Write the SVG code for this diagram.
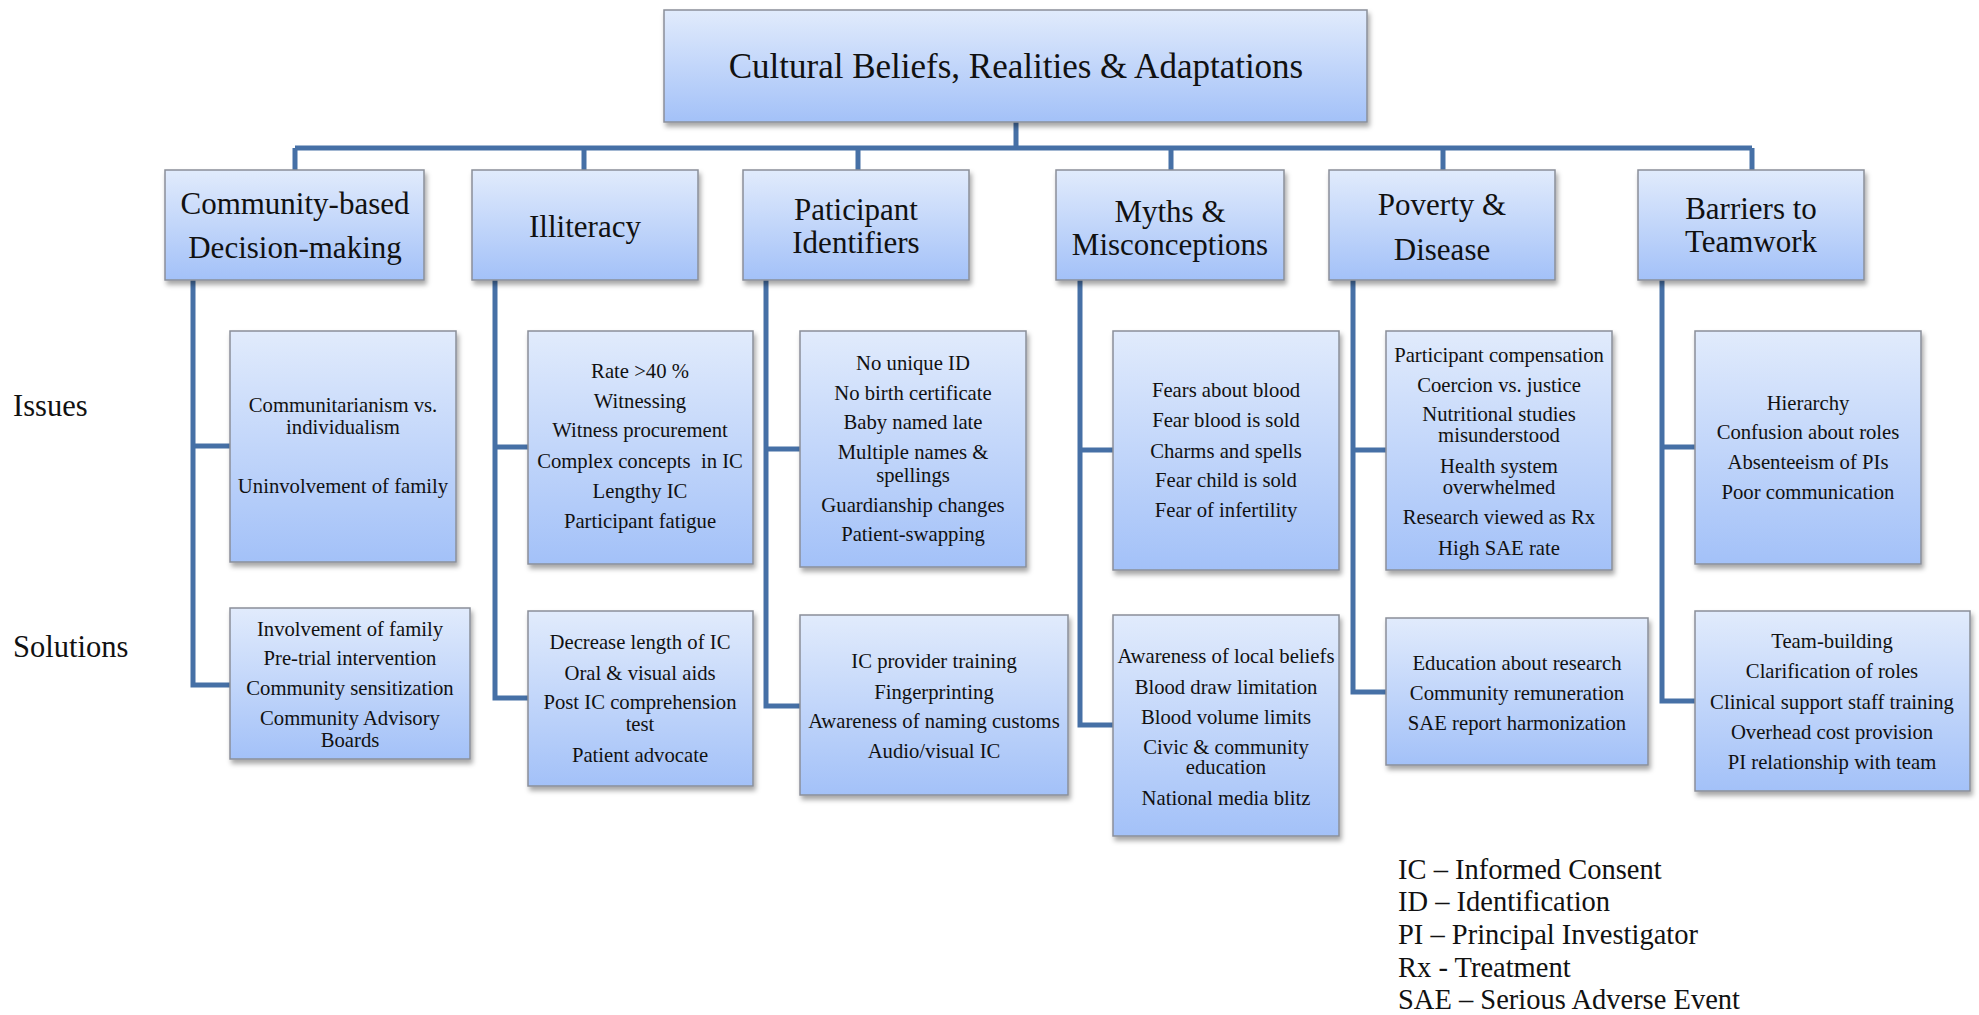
<svg xmlns="http://www.w3.org/2000/svg" width="1979" height="1015" viewBox="0 0 1979 1015">
<defs>
<linearGradient id="g" x1="0" y1="0" x2="0" y2="1">
<stop offset="0" stop-color="#e1ebfc"/>
<stop offset="1" stop-color="#a3c1f8"/>
</linearGradient>
<filter id="sh" x="-5%" y="-5%" width="115%" height="120%">
<feDropShadow dx="2" dy="4" stdDeviation="2.5" flood-color="#000" flood-opacity="0.35"/>
</filter>
</defs>
<style>
.box{fill:url(#g);stroke:#8a8f99;stroke-width:1.5;filter:url(#sh)}
.conn{fill:none;stroke:#4670a6;stroke-width:5;stroke-linejoin:miter}
text{font-family:"Liberation Serif","Times New Roman",serif;fill:#111}
.t{font-size:35px;text-anchor:middle}
.c{font-size:31px;text-anchor:middle}
.b{font-size:20.7px;text-anchor:middle}
.l{font-size:30.5px}
.lg{font-size:28.5px}
.pre{white-space:pre}
</style>
<rect width="1979" height="1015" fill="#fff"/>
<g id="connectors">
<path class="conn" d="M1016,122 V148 M295,148 H1752 M295,148 V170 M584,148 V170 M858,148 V170 M1171,148 V170 M1443,148 V170 M1752,148 V170"/>
<path class="conn" d="M193,280 V685 H230 M193,446 H230"/>
<path class="conn" d="M495,280 V698 H528 M495,447 H528"/>
<path class="conn" d="M766,280 V706 H800 M766,449 H800"/>
<path class="conn" d="M1080,280 V725 H1113 M1080,450 H1113"/>
<path class="conn" d="M1353,280 V692 H1386 M1353,450 H1386"/>
<path class="conn" d="M1662,280 V701 H1695 M1662,447 H1695"/>
</g>
<g id="root">
<rect class="box" x="664" y="10" width="703" height="112"/>
<text class="t" x="1016" y="78">Cultural Beliefs, Realities &amp; Adaptations</text>
</g>
<g id="cat1">
<rect class="box" x="165" y="170" width="259" height="110"/>
<text class="c" x="295" y="214">Community-based</text>
<text class="c" x="295" y="258">Decision-making</text>
</g>
<g id="cat2">
<rect class="box" x="472" y="170" width="226" height="110"/>
<text class="c" x="585" y="237">Illiteracy</text>
</g>
<g id="cat3">
<rect class="box" x="743" y="170" width="226" height="110"/>
<text class="c" x="856" y="220">Paticipant</text>
<text class="c" x="856" y="253">Identifiers</text>
</g>
<g id="cat4">
<rect class="box" x="1056" y="170" width="228" height="110"/>
<text class="c" x="1170" y="222">Myths &amp;</text>
<text class="c" x="1170" y="255">Misconceptions</text>
</g>
<g id="cat5">
<rect class="box" x="1329" y="170" width="226" height="110"/>
<text class="c" x="1442" y="215">Poverty &amp;</text>
<text class="c" x="1442" y="260">Disease</text>
</g>
<g id="cat6">
<rect class="box" x="1638" y="170" width="226" height="110"/>
<text class="c" x="1751" y="219">Barriers to</text>
<text class="c" x="1751" y="252">Teamwork</text>
</g>
<g id="labels">
<text class="l" x="13" y="416">Issues</text>
<text class="l" x="13" y="657">Solutions</text>
</g>
<g id="issue1">
<rect class="box" x="230" y="331" width="226" height="231"/>
<text class="b" x="343" y="412">Communitarianism vs.</text>
<text class="b" x="343" y="434">individualism</text>
<text class="b" x="343" y="493">Uninvolvement of family</text>
</g>
<g id="issue2">
<rect class="box" x="528" y="331" width="225" height="233"/>
<text class="b" x="640" y="378">Rate &gt;40 %</text>
<text class="b" x="640" y="408">Witnessing</text>
<text class="b" x="640" y="437">Witness procurement</text>
<text class="b pre" x="640" y="468">Complex concepts  in IC</text>
<text class="b" x="640" y="498">Lengthy IC</text>
<text class="b" x="640" y="528">Participant fatigue</text>
</g>
<g id="issue3">
<rect class="box" x="800" y="331" width="226" height="236"/>
<text class="b" x="913" y="370">No unique ID</text>
<text class="b" x="913" y="400">No birth certificate</text>
<text class="b" x="913" y="429">Baby named late</text>
<text class="b" x="913" y="459">Multiple names &amp;</text>
<text class="b" x="913" y="482">spellings</text>
<text class="b" x="913" y="512">Guardianship changes</text>
<text class="b" x="913" y="541">Patient-swapping</text>
</g>
<g id="issue4">
<rect class="box" x="1113" y="331" width="226" height="239"/>
<text class="b" x="1226" y="397">Fears about blood</text>
<text class="b" x="1226" y="427">Fear blood is sold</text>
<text class="b" x="1226" y="458">Charms and spells</text>
<text class="b" x="1226" y="487">Fear child is sold</text>
<text class="b" x="1226" y="517">Fear of infertility</text>
</g>
<g id="issue5">
<rect class="box" x="1386" y="331" width="226" height="239"/>
<text class="b" x="1499" y="362">Participant compensation</text>
<text class="b" x="1499" y="392">Coercion vs. justice</text>
<text class="b" x="1499" y="421">Nutritional studies</text>
<text class="b" x="1499" y="442">misunderstood</text>
<text class="b" x="1499" y="473">Health system</text>
<text class="b" x="1499" y="494">overwhelmed</text>
<text class="b" x="1499" y="524">Research viewed as Rx</text>
<text class="b" x="1499" y="555">High SAE rate</text>
</g>
<g id="issue6">
<rect class="box" x="1695" y="331" width="226" height="233"/>
<text class="b" x="1808" y="410">Hierarchy</text>
<text class="b" x="1808" y="439">Confusion about roles</text>
<text class="b" x="1808" y="469">Absenteeism of PIs</text>
<text class="b" x="1808" y="499">Poor communication</text>
</g>
<g id="sol1">
<rect class="box" x="230" y="608" width="240" height="151"/>
<text class="b" x="350" y="636">Involvement of family</text>
<text class="b" x="350" y="665">Pre-trial intervention</text>
<text class="b" x="350" y="695">Community sensitization</text>
<text class="b" x="350" y="725">Community Advisory</text>
<text class="b" x="350" y="747">Boards</text>
</g>
<g id="sol2">
<rect class="box" x="528" y="611" width="225" height="175"/>
<text class="b" x="640" y="649">Decrease length of IC</text>
<text class="b" x="640" y="680">Oral &amp; visual aids</text>
<text class="b" x="640" y="709">Post IC comprehension</text>
<text class="b" x="640" y="731">test</text>
<text class="b" x="640" y="762">Patient advocate</text>
</g>
<g id="sol3">
<rect class="box" x="800" y="615" width="268" height="180"/>
<text class="b" x="934" y="668">IC provider training</text>
<text class="b" x="934" y="699">Fingerprinting</text>
<text class="b" x="934" y="728">Awareness of naming customs</text>
<text class="b" x="934" y="758">Audio/visual IC</text>
</g>
<g id="sol4">
<rect class="box" x="1113" y="615" width="226" height="221"/>
<text class="b" x="1226" y="663">Awareness of local beliefs</text>
<text class="b" x="1226" y="694">Blood draw limitation</text>
<text class="b" x="1226" y="724">Blood volume limits</text>
<text class="b" x="1226" y="754">Civic &amp; community</text>
<text class="b" x="1226" y="774">education</text>
<text class="b" x="1226" y="805">National media blitz</text>
</g>
<g id="sol5">
<rect class="box" x="1386" y="618" width="262" height="147"/>
<text class="b" x="1517" y="670">Education about research</text>
<text class="b" x="1517" y="700">Community remuneration</text>
<text class="b" x="1517" y="730">SAE report harmonization</text>
</g>
<g id="sol6">
<rect class="box" x="1695" y="611" width="275" height="180"/>
<text class="b" x="1832" y="648">Team-building</text>
<text class="b" x="1832" y="678">Clarification of roles</text>
<text class="b" x="1832" y="709">Clinical support staff training</text>
<text class="b" x="1832" y="739">Overhead cost provision</text>
<text class="b" x="1832" y="769">PI relationship with team</text>
</g>
<g id="legend">
<text class="lg" x="1398" y="879">IC – Informed Consent</text>
<text class="lg" x="1398" y="911">ID – Identification</text>
<text class="lg" x="1398" y="944">PI – Principal Investigator</text>
<text class="lg" x="1398" y="977">Rx - Treatment</text>
<text class="lg" x="1398" y="1009">SAE – Serious Adverse Event</text>
</g>
</svg>
